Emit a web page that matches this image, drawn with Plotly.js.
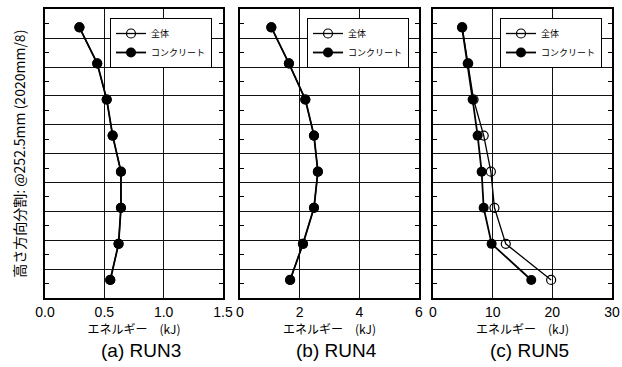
<!DOCTYPE html>
<html><head><meta charset="utf-8">
<script src="https://cdn.plot.ly/plotly-3.0.1.min.js"></script>
<style>html,body{margin:0;padding:0;background:#fff}</style>
</head><body><div id="c" style="width:622px;height:367px"></div>
<script>
// heights: centre of each of 8 divisions (@252.5mm), top to bottom
const heights = [1893.75, 1641.25, 1388.75, 1136.25, 883.75, 631.25, 378.75, 126.25];
const run3Total = [0.29, 0.44, 0.52, 0.57, 0.64, 0.64, 0.62, 0.55];
const run3Conc  = [0.29, 0.44, 0.52, 0.57, 0.64, 0.64, 0.62, 0.55];
const run4Total = [1.05, 1.64, 2.19, 2.48, 2.61, 2.48, 2.11, 1.68];
const run4Conc  = [1.05, 1.64, 2.19, 2.48, 2.61, 2.48, 2.11, 1.68];
const run5Total = [4.9, 5.9, 6.8, 8.5, 9.7, 10.3, 12.2, 19.8];
const run5Conc  = [4.86, 5.81, 6.64, 7.48, 8.15, 8.49, 9.83, 16.47];
const seriesNames = ['全体', 'コンクリート'];
const xRanges = [[0, 1.5], [0, 6], [0, 30]];
const xDticks = [0.5, 2, 10];
const xTickFormats = ['.1f', 'd', 'd'];
const panelTitles = ['(a) RUN3', '(b) RUN4', '(c) RUN5'];
const xTitle = 'エネルギー　(kJ)';
const yTitle = '高さ方向分割: @252.5mm (2020mm/8)';

const FONT = 'Liberation Sans, Arial, Noto Sans CJK JP, sans-serif';
const JFONT = 'Noto Sans CJK JP, Liberation Sans, sans-serif';
const runs = [[run3Total, run3Conc], [run4Total, run4Conc], [run5Total, run5Conc]];
const domains = [[45/622, 223/622], [240/622, 419/622], [433/622, 612/622]];
const legendRight = [212, 409, 602];
const yDom = [1 - 298/367, 1 - 9.3/367];

const traces = [];
const layout = {
  width: 622, height: 367,
  margin: {l: 0, r: 0, t: 0, b: 0},
  paper_bgcolor: '#fff', plot_bgcolor: '#fff',
  font: {family: FONT, color: '#000', size: 13},
  annotations: [],
  showlegend: true
};
runs.forEach((r, i) => {
  const sfx = i === 0 ? '' : String(i + 1);
  const legName = 'legend' + sfx;
  traces.push({
    x: r[0], y: heights, name: seriesNames[0], type: 'scatter', mode: 'lines+markers',
    xaxis: 'x' + sfx, yaxis: 'y' + sfx, legend: legName,
    line: {color: '#000', width: 1.3},
    marker: {symbol: 'circle-open', size: 9, color: '#000', line: {width: 1.2, color: '#000'}}
  });
  traces.push({
    x: r[1], y: heights, name: seriesNames[1], type: 'scatter', mode: 'lines+markers',
    xaxis: 'x' + sfx, yaxis: 'y' + sfx, legend: legName,
    line: {color: '#000', width: 1.8},
    marker: {symbol: 'circle', size: 10, color: '#000'}
  });
  layout['xaxis' + sfx] = {
    domain: domains[i], anchor: 'y' + sfx, range: xRanges[i], dtick: xDticks[i], tick0: 0,
    tickformat: xTickFormats[i], showgrid: true, gridcolor: '#111', gridwidth: 1,
    zeroline: false, showline: true, linecolor: '#000', linewidth: 2, mirror: true,
    ticks: '', tickfont: {size: 14, family: FONT, color: '#000'},
    title: {text: xTitle, font: {size: 12, family: JFONT, color: '#000'}, standoff: 2}
  };
  layout['yaxis' + sfx] = {
    domain: yDom, anchor: 'x' + sfx, range: [0, 2020], dtick: 202, tick0: 0,
    showgrid: true, gridcolor: '#111', gridwidth: 1, zeroline: false,
    showline: true, linecolor: '#000', linewidth: 2, mirror: 'allticks',
    showticklabels: false, ticks: '',
    minor: {dtick: 101, tick0: 0, ticks: 'inside', ticklen: 4, tickcolor: '#000', tickwidth: 1, showgrid: false},
    title: i === 0 ? {text: yTitle, font: {size: 14, family: JFONT, color: '#000'}, standoff: 14} : {text: ''}
  };
  layout[legName] = {
    x: legendRight[i] / 622, xanchor: 'right', y: 1 - 18/367, yanchor: 'top',
    bgcolor: '#fff', bordercolor: '#000', borderwidth: 1,
    font: {size: 9, family: JFONT, color: '#000'}, itemwidth: 30, tracegroupgap: 0,
    traceorder: 'normal'
  };
  layout.annotations.push({
    text: panelTitles[i], xref: 'paper', yref: 'paper',
    x: (domains[i][0] + domains[i][1]) / 2 + 7/622, y: 1 - 350/367, xanchor: 'center', yanchor: 'middle',
    showarrow: false, font: {size: 19, family: 'Liberation Sans, Arial, sans-serif', color: '#000'}
  });
});
Plotly.newPlot('c', traces, layout, {staticPlot: true, displayModeBar: false});
</script></body></html>
